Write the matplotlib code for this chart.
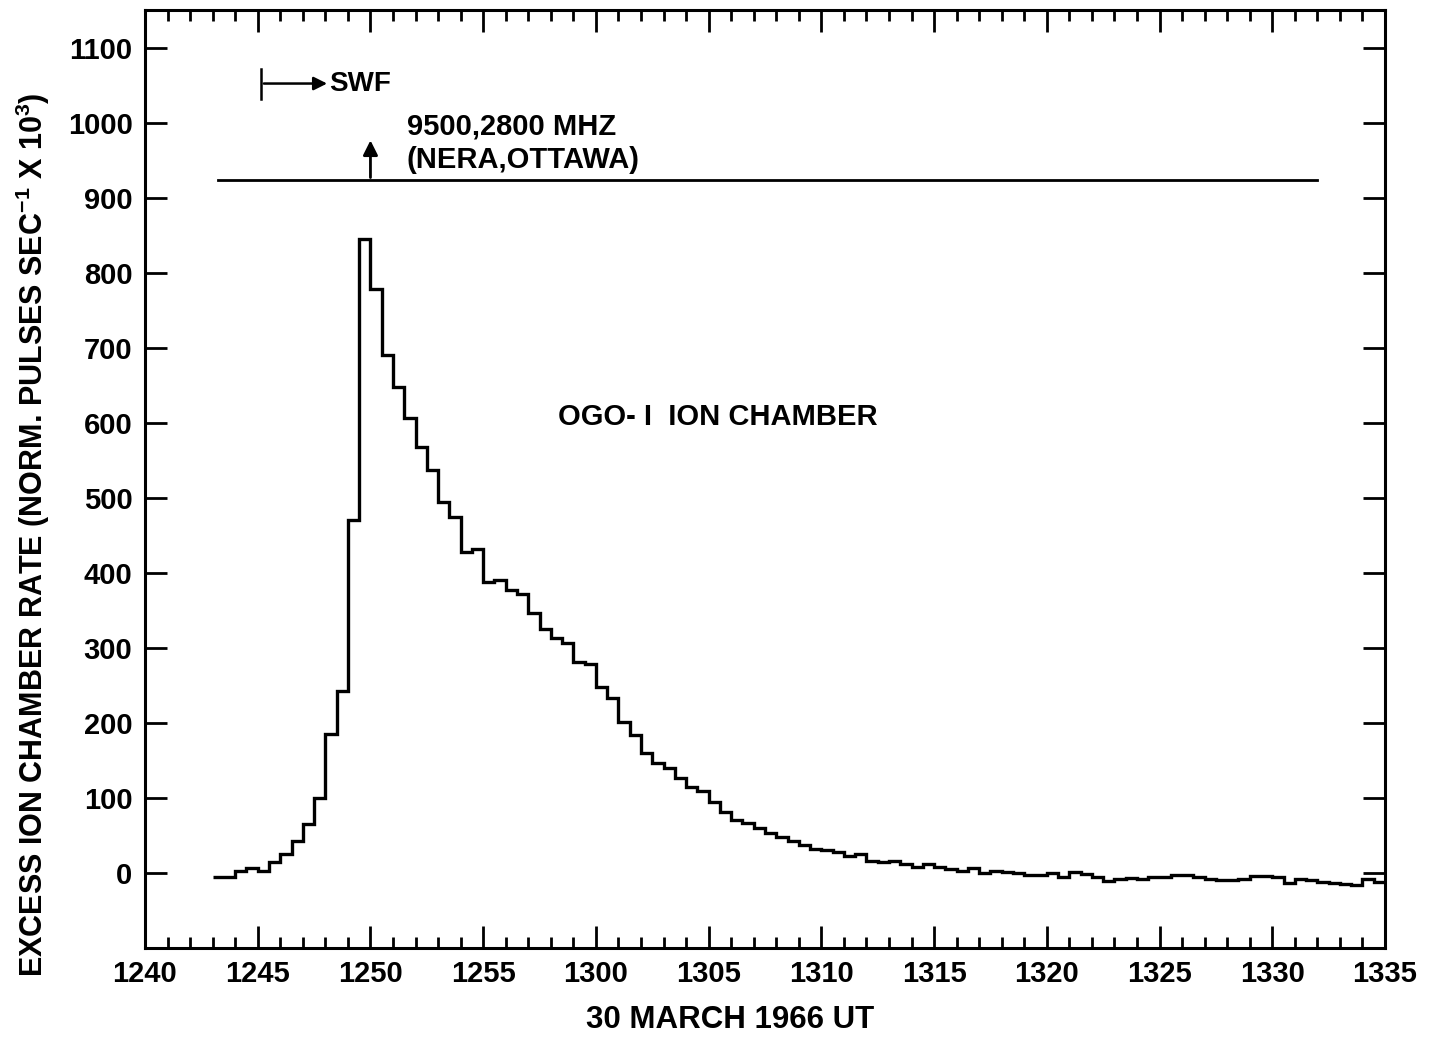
import matplotlib
matplotlib.use("Agg")
import matplotlib.pyplot as plt
import numpy as np

plt.rcParams['font.family'] = ['Liberation Sans', 'DejaVu Sans']
plt.rcParams['font.weight'] = 'bold'
plt.rcParams['mathtext.default'] = 'regular'

# time axis: minutes after 1240 UT
tick_minutes = list(range(0, 56, 5))
tick_labels = ['1240', '1245', '1250', '1255', '1300', '1305', '1310',
               '1315', '1320', '1325', '1330', '1335']

# OGO-I ion chamber, 30 s samples starting at 1243 UT
sample_start = 3.0
sample_width = 0.5
rate = [-5, -5, 3, 7, 2, 15, 25, 42, 65, 100,
        185, 242, 470, 845, 778, 690, 648, 606, 567, 537,
        494, 475, 428, 432, 388, 391, 377, 372, 346, 325,
        313, 306, 281, 278, 248, 233, 201, 184, 160, 147,
        140, 126, 114, 109, 95, 81, 71, 67, 60, 53,
        48, 43, 37, 32, 31, 28, 22, 25, 16, 14,
        16, 12, 8, 12, 8, 5, 2, 6, 0, 3,
        1, 0, -3, -3, 0, -5, 1, -1, -6, -11,
        -8, -7, -8, -6, -6, -3, -3, -6, -8, -9,
        -10, -8, -4, -4, -6, -14, -8, -9, -12, -14,
        -15, -16, -8, -12]

edges = sample_start + sample_width * np.arange(len(rate) + 1)

fig = plt.figure(figsize=(14.41, 10.37), dpi=100)
ax = fig.add_axes([145 / 1441, 1 - 948 / 1037, 1240 / 1441, 938 / 1037])

ax.stairs(rate, edges, baseline=None, color='black', linewidth=2.4)

ax.set_xlim(0, 55)
ax.set_ylim(-100, 1150)
ax.set_xticks(tick_minutes)
ax.set_xticklabels(tick_labels)
ax.set_xticks(range(0, 56), minor=True)
ax.set_yticks(range(0, 1101, 100))

ax.tick_params(which='both', direction='in', top=True, right=True, width=2)
ax.tick_params(which='major', length=16, labelsize=21, pad=9)
ax.tick_params(which='minor', length=8)
for s in ax.spines.values():
    s.set_linewidth(2.2)

# radio burst marker line and arrow
ax.plot([3.25, 52.0], [923, 923], color='black', linewidth=2)
ax.annotate('', xy=(10.0, 980), xytext=(10.0, 923),
            arrowprops=dict(arrowstyle='-|>', color='black', lw=2, mutation_scale=22))
ax.text(11.6, 995, '9500,2800 MHZ', fontsize=21, ha='left', va='center')
ax.text(11.6, 950, '(NERA,OTTAWA)', fontsize=21, ha='left', va='center')

# SWF onset
ax.plot([5.15, 5.15], [1032, 1072], color='black', linewidth=1.8)
ax.annotate('', xy=(8.2, 1052), xytext=(5.15, 1052),
            arrowprops=dict(arrowstyle='-|>', color='black', lw=1.8, mutation_scale=20))
ax.text(8.15, 1052, 'SWF', fontsize=20, ha='left', va='center')

ax.text(18.3, 608, 'OGO- I  ION CHAMBER', fontsize=21, ha='left', va='center')

fig.text(33 / 1441, 1 - 535 / 1037,
         r'EXCESS ION CHAMBER RATE (NORM. PULSES SEC$^{-1}$ X 10$^{3}$)',
         rotation=90, fontsize=22, ha='center', va='center')
fig.text(730 / 1441, 1 - 1020 / 1037, '30 MARCH 1966 UT',
         fontsize=22.5, ha='center', va='center')

fig.savefig('out.png', dpi=100)
